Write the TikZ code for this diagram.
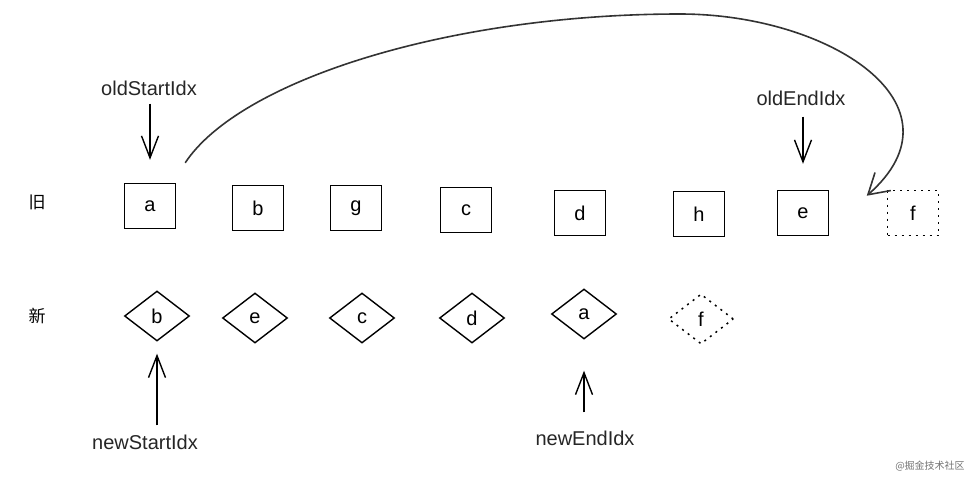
\documentclass[tikz,border=0pt]{standalone}
\usepackage{fontspec}
\setmainfont{Liberation Sans}
\newfontfamily\cjk{Noto Sans CJK SC}
\usetikzlibrary{positioning, arrows.meta, shapes.geometric}

\begin{document}
\begin{tikzpicture}[
  x=1pt, y=-1pt,
  oldbox/.style={draw, rectangle, line width=1.4pt, minimum width=51pt, minimum height=45pt,
                 inner sep=0pt, font=\fontsize{20}{22}\selectfont},
  newbox/.style={draw, diamond, aspect=1.3, line width=1.4pt, minimum width=65pt,
                 minimum height=50pt, inner sep=0pt, font=\fontsize{20}{22}\selectfont},
  ghost/.style={dash pattern=on 2pt off 5pt, line width=1.5pt},
  rowlbl/.style={font=\cjk\fontsize{17}{19}\selectfont, inner sep=0pt},
  idxlbl/.style={font=\fontsize{20}{22}\selectfont, inner sep=0pt, text=black!85},
  ptr/.style={-{Straight Barb[length=22pt, width=17pt]}, line width=1.4pt},
  jump/.style={-{Straight Barb[length=20pt, width=24pt]}, line width=1.6pt, draw=black!80},
  wmark/.style={font=\cjk\fontsize{10}{12}\selectfont, text=black!55, inner sep=0pt},
]
\useasboundingbox (0,0) rectangle (974,480);

% ---- Row labels ----
\node[rowlbl] (rowOld) at (37,202) {旧};
\node[rowlbl] (rowNew) at (37,316) {新};

% ---- Old children (top row) ----
\node[oldbox] (oldA) at (150,206) {a};
\node[oldbox] (oldB) at (258,208) {b};
\node[oldbox] (oldG) at (356,208) {g};
\node[oldbox] (oldC) at (466,210) {c};
\node[oldbox] (oldD) at (580,213) {d};
\node[oldbox] (oldH) at (699,214) {h};
\node[oldbox] (oldE) at (803,213) {e};
\node[oldbox, ghost] (oldF) at (913,213) {f};

% ---- New children (bottom row) ----
\node[newbox] (newB) at (157,316) {b};
\node[newbox] (newE) at (255,318) {e};
\node[newbox] (newC) at (362,318) {c};
\node[newbox] (newD) at (472,318) {d};
\node[newbox] (newA) at (584,314) {a};
\node[newbox, ghost] (newF) at (701,319) {f};

% ---- Index pointers ----
\node[idxlbl] (oldStartLbl) at (149,88) {oldStartIdx};
\node[idxlbl] (oldEndLbl) at (801,98) {oldEndIdx};
\node[idxlbl] (newStartLbl) at (145,442) {newStartIdx};
\node[idxlbl] (newEndLbl) at (585,438) {newEndIdx};

\draw[ptr, shorten <=8pt, shorten >=23pt] (oldStartLbl.south -| oldA.north) -- (oldA.north);
\draw[ptr, shorten <=11pt, shorten >=26pt] (oldEndLbl.south -| oldE.north) -- (oldE.north);
\draw[ptr, shorten <=9pt, shorten >=12pt] (newStartLbl.north -| newB.south) -- (newB.south);
\draw[ptr, shorten <=18pt, shorten >=31pt] (newEndLbl.north -| newA.south) -- (newA.south);

% ---- Moved node: old a goes after old e ----
\draw[jump] ([shift={(9,-20)}]oldA.north east)
  .. controls (240,80) and (450,14) .. (680,14)
  .. controls (830,14) and (970,105) .. ([shift={(-20,6)}]oldF.north west);

% ---- Watermark ----
\node[wmark] (wm) at (930,466) {@掘金技术社区};

\end{tikzpicture}
\end{document}
